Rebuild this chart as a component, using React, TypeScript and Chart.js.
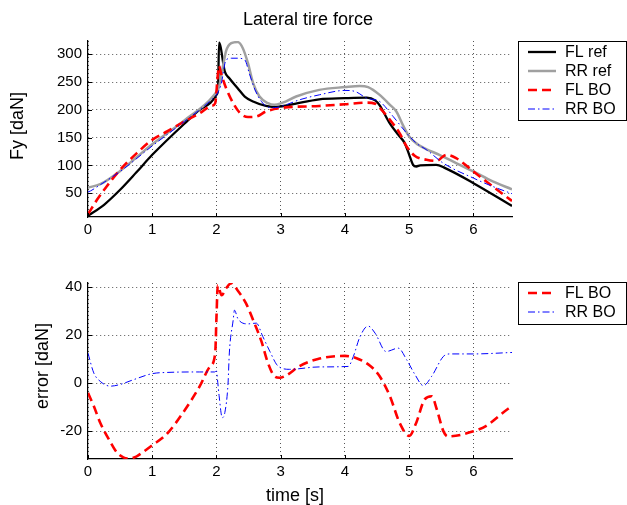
import React, { useEffect, useRef } from 'react';
import { Chart, registerables } from 'chart.js';

Chart.register(...registerables);

const FONT = '"Liberation Sans", Arial, Helvetica, sans-serif';

// ---------- Top panel: Lateral tire force ----------
const X_TICKS = [0, 1, 2, 3, 4, 5, 6];
const TOP_Y_TICKS = [50, 100, 150, 200, 250, 300];
const BOTTOM_Y_TICKS = [-20, 0, 20, 40];

const T_FL_REF = [0, 0.25, 0.5, 0.75, 1.0, 1.5, 1.75, 2.01, 2.025, 2.04, 2.13, 2.2, 2.33, 2.44, 2.57, 2.77, 2.9, 3.14, 3.6, 4.0, 4.34, 4.47, 4.54, 4.7, 4.83, 4.93, 5.0, 5.06, 5.11, 5.17, 5.42, 5.56, 6.0, 6.6];
const FL_REF = [9, 29, 56, 87, 119, 175, 201, 229, 240, 321, 269, 257, 239, 224, 215, 207, 205, 209, 219, 221, 222, 217, 208, 175, 155, 140, 119, 101, 98, 100, 101, 95, 68, 27];

const T_RR_REF = [0, 0.19, 0.5, 0.76, 1.0, 1.5, 1.95, 2.04, 2.1, 2.15, 2.23, 2.33, 2.41, 2.49, 2.57, 2.67, 2.8, 2.9, 3.03, 3.24, 3.6, 4.0, 4.23, 4.36, 4.54, 4.7, 4.8, 4.9, 5.0, 5.14, 5.27, 5.47, 5.73, 6.0, 6.3, 6.6];
const RR_REF = [60, 66, 90, 115, 138, 181, 225, 242, 278, 306, 320, 322, 311, 284, 248, 224, 212, 209, 213, 224, 236, 241, 243, 241, 227, 209, 197, 173, 152, 137, 129, 119, 104, 89, 71, 57];

const T_FL_BO = [0, 0.14, 0.29, 0.5, 0.76, 1.0, 1.23, 1.5, 1.74, 1.92, 1.98, 2.02, 2.04, 2.07, 2.15, 2.26, 2.36, 2.49, 2.62, 2.77, 2.98, 3.6, 4.0, 4.34, 4.47, 4.57, 4.7, 4.85, 4.96, 5.09, 5.27, 5.42, 5.58, 5.73, 6.0, 6.3, 6.6];
const FL_BO = [12, 38, 62, 92, 122, 146, 161, 179, 194, 207, 212, 262, 279, 266, 239, 212, 195, 187, 188, 197, 203, 207, 210, 213, 211, 200, 182, 158, 134, 117, 110, 108, 119, 113, 89, 62, 36];

const T_RR_BO = [0, 0.04, 0.19, 0.5, 1.0, 1.5, 1.95, 2.0, 2.07, 2.15, 2.23, 2.33, 2.44, 2.51, 2.6, 2.7, 2.8, 2.9, 3.08, 3.29, 3.6, 4.0, 4.16, 4.34, 4.54, 4.75, 4.96, 5.11, 5.27, 5.53, 6.0, 6.3, 6.6];
const RR_BO = [52, 54, 65, 89, 135, 179, 221, 227, 245, 290, 293, 293, 290, 266, 236, 215, 205, 204, 209, 218, 227, 235, 233, 221, 215, 188, 158, 140, 128, 104, 77, 62, 49];

// ---------- Bottom panel: error ----------
const T_FL_ERR = [0, 0.09, 0.19, 0.35, 0.45, 0.55, 0.65, 0.75, 0.81, 0.99, 1.23, 1.48, 1.74, 1.9, 1.98, 2.0, 2.02, 2.08, 2.15, 2.23, 2.33, 2.46, 2.57, 2.7, 2.8, 2.9, 2.98, 3.09, 3.29, 3.58, 4.0, 4.18, 4.39, 4.54, 4.7, 4.85, 5.0, 5.11, 5.24, 5.35, 5.43, 5.53, 5.6, 6.0, 6.2, 6.54, 6.6];
const FL_ERR = [-4, -9.5, -16.4, -24.5, -28.8, -30.8, -31.3, -30.5, -29.5, -26, -21, -12.2, -1.2, 7, 12.5, 27.6, 40.7, 36.6, 39.5, 41.6, 38.6, 33.2, 26.3, 17.4, 8.5, 3, 2.3, 3.3, 7.1, 10.1, 11.4, 10.4, 7.3, 2.9, -5.4, -16.4, -21.9, -16.4, -6.7, -5.4, -10.9, -19.8, -22.1, -20, -17.7, -10.6, -9.6];

const T_RR_ERR = [0, 0.09, 0.19, 0.35, 0.5, 0.71, 1.0, 1.23, 1.74, 1.97, 2.0, 2.02, 2.04, 2.09, 2.13, 2.18, 2.2, 2.26, 2.28, 2.33, 2.41, 2.49, 2.62, 2.72, 2.83, 2.96, 3.14, 3.6, 4.05, 4.13, 4.23, 4.36, 4.47, 4.64, 4.83, 4.96, 5.09, 5.22, 5.35, 5.53, 5.63, 6.0, 6.6];
const RR_ERR = [12.5, 4.3, 0.8, -1.2, -0.5, 1.5, 4, 4.5, 4.7, 4.7, 5.1, 0.3, -5, -14.3, -12.2, 0, 12.6, 26.3, 30.4, 27, 25, 24.7, 25, 19.5, 13.3, 7.1, 5.8, 6.8, 7, 11.1, 19.1, 23.8, 20.8, 13.2, 14.6, 9.8, 3.6, -1, 2.9, 11.1, 12.2, 12.2, 12.8];

function pts(t: number[], v: number[]) {
  return t.map((x, i) => ({ x, y: v[i] }));
}

const STYLE: Record<string, any> = {
  'FL ref': { borderColor: '#000000', borderWidth: 2.3, borderDash: [], order: 4 },
  'RR ref': { borderColor: '#a0a0a0', borderWidth: 2.5, borderDash: [], order: 3 },
  'FL BO': { borderColor: '#ff0000', borderWidth: 2.6, borderDash: [9, 5], order: 2 },
  'RR BO': { borderColor: '#0000ff', borderWidth: 1, borderDash: [7, 3, 1.5, 3], order: 1 },
};

function ds(label: string, t: number[], v: number[]) {
  const s = STYLE[label];
  return {
    label,
    data: pts(t, v),
    borderColor: s.borderColor,
    backgroundColor: s.borderColor,
    borderWidth: s.borderWidth,
    borderDash: s.borderDash,
    order: s.order,
    pointRadius: 0,
    fill: false,
    cubicInterpolationMode: 'monotone',
  };
}

type TextItem = { text: string; x: number; y: number; size: number; rotate?: boolean };
type LegendBox = { x: number; y: number; w: number; h: number; rows: number[]; labels: string[] };

function makeOverlay(texts: TextItem[], legend: LegendBox, yTicks: number[]) {
  return {
    id: 'overlay',
    afterDraw(chart: any) {
      const ctx = chart.ctx as CanvasRenderingContext2D;
      const area = chart.chartArea;
      ctx.save();
      // inward tick marks
      ctx.strokeStyle = '#000';
      ctx.lineWidth = 1;
      ctx.setLineDash([]);
      ctx.beginPath();
      X_TICKS.forEach((v) => {
        const px = Math.round(chart.scales.x.getPixelForValue(v)) + 0.5;
        ctx.moveTo(px, area.bottom);
        ctx.lineTo(px, area.bottom - 4);
      });
      yTicks.forEach((v) => {
        const py = Math.round(chart.scales.y.getPixelForValue(v)) + 0.5;
        ctx.moveTo(area.left, py);
        ctx.lineTo(area.left + 4, py);
      });
      ctx.stroke();

      ctx.fillStyle = '#000';
      ctx.textAlign = 'center';
      ctx.textBaseline = 'middle';
      texts.forEach((t) => {
        ctx.save();
        ctx.font = `${t.size}px ${FONT}`;
        ctx.translate(t.x, t.y);
        if (t.rotate) ctx.rotate(-Math.PI / 2);
        ctx.fillText(t.text, 0, 0);
        ctx.restore();
      });
      // legend box
      ctx.fillStyle = '#ffffff';
      ctx.fillRect(legend.x, legend.y, legend.w, legend.h);
      ctx.strokeStyle = '#000';
      ctx.lineWidth = 1;
      ctx.setLineDash([]);
      ctx.strokeRect(legend.x + 0.5, legend.y + 0.5, legend.w - 1, legend.h - 1);
      legend.labels.forEach((lab, i) => {
        const s = STYLE[lab];
        const y = legend.rows[i];
        ctx.beginPath();
        ctx.strokeStyle = s.borderColor;
        ctx.lineWidth = s.borderWidth;
        ctx.setLineDash(s.borderDash);
        ctx.moveTo(legend.x + 10, y);
        ctx.lineTo(legend.x + 38, y);
        ctx.stroke();
        ctx.setLineDash([]);
        ctx.fillStyle = '#000';
        ctx.textAlign = 'left';
        ctx.textBaseline = 'middle';
        ctx.font = `16px ${FONT}`;
        ctx.fillText(lab, legend.x + 47, y + 1);
      });
      ctx.restore();
    },
  };
}

type PanelProps = {
  top: number;
  height: number;
  areaTop: number;
  areaBottom: number;
  yMin: number;
  yMax: number;
  yTicks: number[];
  datasets: any[];
  texts: TextItem[];
  legend: LegendBox;
};

function Panel(p: PanelProps) {
  const ref = useRef<HTMLCanvasElement | null>(null);
  useEffect(() => {
    if (!ref.current) return;
    const chart = new Chart(ref.current, {
      type: 'line',
      data: { datasets: p.datasets },
      options: {
        animation: false,
        responsive: false,
        devicePixelRatio: 1,
        layout: { padding: { left: 0, right: 627 - 512, top: p.areaTop, bottom: 0 } },
        plugins: { legend: { display: false }, tooltip: { enabled: false }, title: { display: false } },
        scales: {
          x: {
            type: 'linear',
            min: 0,
            max: 6.6,
            afterBuildTicks: (s: any) => {
              s.ticks = X_TICKS.map((v) => ({ value: v }));
            },
            afterFit: (s: any) => {
              s.height = p.height - p.areaBottom;
            },
            ticks: {
              color: '#000',
              font: { family: FONT, size: 15 },
              padding: 4,
              maxRotation: 0,
              autoSkip: false,
            },
            grid: { color: '#555', lineWidth: 1, drawTicks: false },
            border: { display: true, color: '#000', width: 1.2, dash: [1, 3] },
          },
          y: {
            type: 'linear',
            min: p.yMin,
            max: p.yMax,
            afterBuildTicks: (s: any) => {
              s.ticks = p.yTicks.map((v) => ({ value: v }));
            },
            afterFit: (s: any) => {
              s.width = 88;
            },
            ticks: {
              color: '#000',
              font: { family: FONT, size: 15 },
              padding: 6,
              autoSkip: false,
            },
            grid: { color: '#555', lineWidth: 1, drawTicks: false },
            border: { display: true, color: '#000', width: 1.2, dash: [1, 3] },
          },
        },
      } as any,
      plugins: [makeOverlay(p.texts, p.legend, p.yTicks)],
    });
    return () => chart.destroy();
  }, []);
  return (
    <canvas
      ref={ref}
      width={627}
      height={p.height}
      style={{ position: 'absolute', left: 0, top: p.top, width: 627, height: p.height }}
    />
  );
}

export default function App() {
  useEffect(() => {
    document.body.style.margin = '0';
  }, []);
  const topDatasets = [
    ds('FL ref', T_FL_REF, FL_REF),
    ds('RR ref', T_RR_REF, RR_REF),
    ds('FL BO', T_FL_BO, FL_BO),
    ds('RR BO', T_RR_BO, RR_BO),
  ];
  const bottomDatasets = [ds('FL BO', T_FL_ERR, FL_ERR), ds('RR BO', T_RR_ERR, RR_ERR)];
  return (
    <div style={{ position: 'fixed', left: 0, top: 0, width: 627, height: 505, background: '#fff', overflow: 'hidden' }}>
      <Panel
        top={0}
        height={250}
        areaTop={41}
        areaBottom={217}
        yMin={7}
        yMax={324}
        yTicks={TOP_Y_TICKS}
        datasets={topDatasets}
        texts={[
          { text: 'Lateral tire force', x: 308, y: 20, size: 18 },
          { text: 'Fy [daN]', x: 18, y: 126, size: 18, rotate: true },
        ]}
        legend={{ x: 518, y: 41, w: 109, h: 80, rows: [52, 71, 90, 109], labels: ['FL ref', 'RR ref', 'FL BO', 'RR BO'] }}
      />
      <Panel
        top={250}
        height={255}
        areaTop={33}
        areaBottom={209}
        yMin={-31.5}
        yMax={41.7}
        yTicks={BOTTOM_Y_TICKS}
        datasets={bottomDatasets}
        texts={[
          { text: 'error [daN]', x: 43, y: 116, size: 18, rotate: true },
          { text: 'time [s]', x: 295, y: 246, size: 18 },
        ]}
        legend={{ x: 518, y: 32, w: 109, h: 43, rows: [43, 62], labels: ['FL BO', 'RR BO'] }}
      />
    </div>
  );
}
